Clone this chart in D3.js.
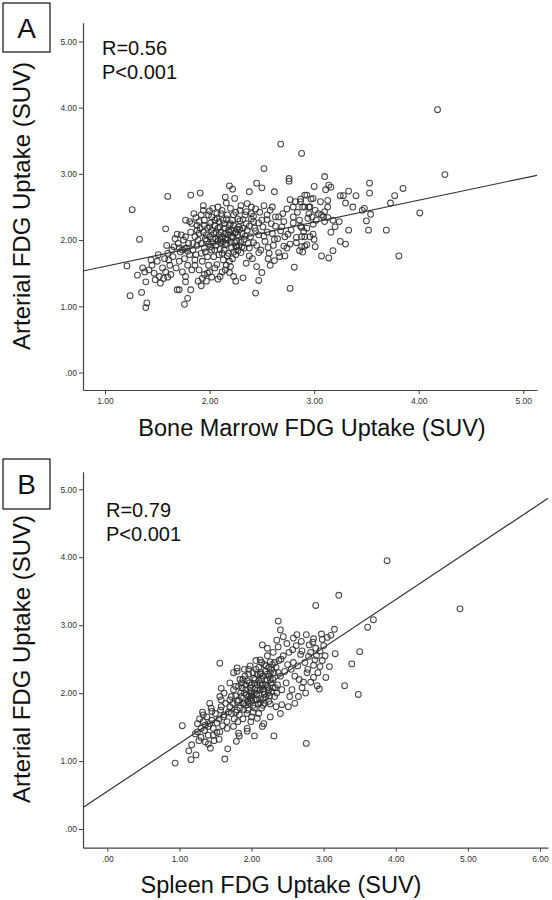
<!DOCTYPE html>
<html><head><meta charset="utf-8">
<script src="https://cdn.jsdelivr.net/npm/d3@7"></script>
<style>body{margin:0;background:#fff}svg{display:block}</style>
</head><body><svg id="c" width="552" height="900"></svg>
<script>
// ---------- data ----------
const panelLabels = ["A", "B"];
const xTitles = ["Bone Marrow FDG Uptake (SUV)", "Spleen FDG Uptake (SUV)"];
const yTitle = "Arterial FDG Uptake (SUV)";
const statsA = ["R=0.56", "P<0.001"];
const statsB = ["R=0.79", "P<0.001"];
const xTicksA = [1, 2, 3, 4, 5];
const xTicksB = [0, 1, 2, 3, 4, 5, 6];
const yTicks = [0, 1, 2, 3, 4, 5];
const fitA = [1.27, 0.333];   // intercept, slope
const fitB = [0.553, 0.706];

// bone marrow SUV, arterial SUV
const pointsA = [
[4.18,3.97],[4.25,2.99],[4.01,2.41],[3.81,1.76],[3.85,2.78],[3.77,2.67],[3.73,2.56],[3.69,2.15],[3.53,2.86],[3.53,2.71],
[3.52,2.15],[3.54,2.39],[3.50,2.29],[3.46,2.45],[3.48,2.48],[3.37,2.50],[3.40,2.67],[3.33,2.74],[3.33,2.15],[3.30,2.56],
[3.30,1.94],[3.25,1.98],[3.25,2.67],[3.28,2.67],[3.24,2.28],[3.20,2.20],[3.18,1.84],[3.16,2.12],[3.14,1.73],[3.07,1.76],
[3.10,2.96],[3.14,2.83],[3.16,2.80],[3.11,2.76],[3.00,2.81],[2.88,3.31],
[3.13,2.60],[3.13,2.50],[3.06,2.58],[2.99,2.63],[2.93,2.68],[2.96,2.50],[2.91,2.50],[3.01,2.45],[3.04,2.40],[3.09,2.35],
[3.13,2.34],[3.10,2.28],[2.99,2.24],[2.93,2.18],[2.90,2.13],[2.99,2.09],[2.96,2.05],[3.00,2.01],[2.93,1.93],[2.89,1.82],
[3.07,2.38],[3.10,2.43],[3.18,2.30],[2.94,2.33],[2.88,2.19],[2.91,2.05],[2.88,1.90],[3.01,1.90],[2.87,2.58],
[2.68,3.45],[2.52,3.08],[2.76,2.93],[2.76,2.89],[2.45,2.86],[2.50,2.79],[2.19,2.82],[2.22,2.77],[2.38,2.73],[2.62,2.73],
[1.60,2.66],[1.82,2.68],[1.91,2.71],[2.15,2.65],[2.24,2.63],[2.16,2.56],[1.26,2.46],[2.60,2.50],[1.77,2.30],[1.81,2.28],
[1.87,2.34],[1.58,2.17],[1.33,2.01],[1.69,2.09],[1.77,2.05],[1.21,1.61],[1.31,1.47],[1.39,1.37],[1.24,1.16],[1.35,1.21],
[1.40,1.05],[1.39,0.98],[1.69,1.25],[1.71,1.25],[1.77,1.37],[1.82,1.25],[1.79,1.12],[1.76,1.03],[1.89,1.38],[1.97,1.38],
[1.92,1.31],[2.08,1.41],[2.19,1.51],[2.23,1.45],[2.25,1.38],[2.32,1.43],[2.44,1.20],[2.47,1.39],[2.50,1.51],[2.77,1.27],
[2.81,1.59],[1.60,1.44],
[2.77,2.61],[2.82,2.58],[2.87,2.62],[2.80,2.50],[2.74,2.47],[2.91,2.68],[2.95,2.50],[2.89,2.50],[2.97,2.62],[2.66,2.35],
[2.71,2.28],[2.80,2.26],[2.87,2.21],[2.63,2.21],[2.68,2.14],[2.75,2.09],[2.83,2.04],[2.62,2.01],[2.71,1.91],[2.77,1.94],
[2.83,1.96],[2.91,1.91],[2.86,1.84],[2.62,1.69],[2.56,1.72],[2.66,1.81],[2.72,1.76],[2.56,1.89],[2.52,2.06],[2.44,2.14],
[2.47,2.26],[2.55,2.31],[2.42,2.36],[2.35,2.43],[2.40,2.50],[2.29,2.45],[2.32,2.31],[2.38,2.21],[2.29,2.16],[2.33,2.01],
[2.42,1.96],[2.47,1.81],[2.38,1.76],[2.30,1.81],[2.25,1.91],
[1.85,2.40],[1.88,2.22],[1.90,2.10],[1.92,1.95],[1.95,2.30],[1.96,1.82],[1.98,2.18],[2.00,2.05],[2.01,1.90],[2.02,2.35],
[2.04,1.75],[2.05,2.22],[2.06,2.12],[2.08,1.98],[2.09,2.28],[2.10,1.86],[2.11,2.40],[2.12,2.05],[2.13,1.70],[2.14,2.18],
[2.15,1.93],[2.16,2.32],[2.17,2.00],[2.18,1.80],[2.19,2.12],[2.20,2.25],[2.21,1.88],[2.22,2.05],[2.23,2.38],[2.24,1.96],
[2.25,1.78],[2.26,2.17],[2.27,2.08],[2.28,1.92],[2.29,2.29],[1.87,1.78],[1.93,1.68],[1.99,1.62],[2.03,2.48],[2.07,1.63],
[2.12,2.45],[2.16,1.62],[2.20,2.48],[1.94,2.45],[1.89,2.00],[2.02,2.15],[2.06,2.02],[2.10,2.20],[2.14,1.85],[2.18,2.08],
[2.22,1.72],[2.26,1.98],[1.97,1.99],[2.01,2.26],[2.05,1.85],[2.09,2.08],[2.13,2.30],[2.17,1.76],[2.21,2.15],[2.25,2.42],
[1.91,2.18],[1.95,1.88],[1.99,2.38],[2.03,1.96],[2.07,2.33],[2.11,1.96],[2.15,2.10],[2.19,1.68],[2.23,2.22],[2.27,1.84],
[1.42,1.55],[1.45,1.62],[1.47,1.50],[1.50,1.68],[1.52,1.45],[1.55,1.58],[1.57,1.72],[1.58,1.52],[1.60,1.80],[1.62,1.62],
[1.63,1.48],[1.65,1.75],[1.66,1.90],[1.68,1.58],[1.70,1.95],[1.71,1.68],[1.72,1.82],[1.74,1.52],[1.75,2.00],[1.76,1.72],
[1.78,1.88],[1.79,1.62],[1.80,1.95],[1.81,1.78],[1.82,2.12],[1.83,1.55],[1.84,1.85],[1.48,1.40],[1.53,1.35],[1.56,1.42],
[1.61,1.70],[1.64,1.85],[1.67,2.02],[1.73,2.08],[1.77,1.45],[1.38,1.52],[1.36,1.58],[1.44,1.70],[1.51,1.78],[1.59,1.92],
[1.74,1.85],[1.76,1.87],[1.79,1.83],[1.71,1.88],
[1.94,2.52],[2.00,2.44],[2.08,2.50],[2.30,2.52],[2.34,2.38],[2.36,2.55],[2.40,2.40],[2.44,2.47],[2.48,2.42],[2.52,2.52],
[2.55,2.38],[2.58,2.45],
[2.31,2.10],[2.33,1.88],[2.35,2.25],[2.37,1.95],[2.39,2.05],[2.41,1.72],[2.43,2.18],[2.45,1.92],[2.47,2.08],[2.49,1.85],
[2.51,2.20],[2.53,1.98],[2.55,2.12],[2.57,1.80],[2.59,2.25],[2.61,1.92],[2.63,2.35],[2.65,2.02],[2.67,1.75],[2.69,2.20],
[2.35,1.65],[2.45,1.60],[2.58,1.62],[2.40,2.32],[2.50,2.30],[2.60,2.10],[2.70,2.40],[2.72,2.05],[2.74,1.88],[2.78,2.15],
[2.80,2.35],[2.84,2.42],[2.86,2.30],[2.88,2.05],[2.95,2.40],[2.98,2.35],[3.02,2.30],
[1.90,1.55],[1.95,1.48],[2.00,1.52],[2.05,1.58],[2.10,1.45],[2.15,1.55],[2.20,1.60],[1.93,1.42],[2.02,1.44],[1.86,1.62],
[1.98,1.50],[2.12,1.52],
[1.86,2.05],[1.88,1.92],[1.90,2.28],[1.92,1.80],[1.94,2.12],[1.96,2.02],[1.98,1.75],[2.00,2.20],[2.02,1.85],[2.04,2.10],
[2.06,1.92],[2.08,2.18],[2.10,2.02],[2.12,1.80],[2.14,2.25],[2.16,1.95],[2.18,2.15],[2.20,1.98],[2.22,2.30],[2.24,2.10],
[2.26,1.90],[2.28,2.20],[2.30,1.97],[2.32,2.18],[2.34,2.06],[1.88,2.15],[1.92,2.38],[1.97,2.08],[2.03,2.02],[2.07,2.40],
[2.11,2.12],[2.15,2.02],[2.19,2.22],[2.23,1.82],[2.27,2.32],[2.31,1.90],[1.99,1.94],[2.09,1.78],[2.13,1.98],[2.17,2.38],
[2.21,2.05],[2.25,2.12],[1.95,2.22],[2.05,2.30],[1.84,1.95],[1.83,2.25],[1.86,1.70],[2.36,2.15],[2.38,1.88],[2.42,2.28]
];

// spleen SUV, arterial SUV
const pointsB = [
[3.88,3.95],[4.89,3.24],[3.21,3.44],[2.89,3.29],[3.69,3.08],[3.61,2.97],[3.50,2.61],[3.39,2.43],[3.29,2.11],[3.48,1.98],
[3.15,2.94],[3.16,2.58],[3.08,2.39],[3.03,2.23],[2.94,2.06],[2.76,1.26],[2.31,1.37],[2.37,3.06],[2.40,2.93],[2.15,2.71],
[2.22,2.66],[1.56,2.44],[1.80,2.37],[1.80,2.32],[1.58,2.07],[1.04,1.52],[0.94,0.97],[1.16,1.02],[1.13,1.15],[1.17,1.24],
[1.23,1.09],[1.25,1.43],[1.43,1.19],[1.63,1.03],[1.67,1.18],[1.79,1.29],[1.83,1.37],[1.94,1.44],[2.04,1.37],[2.15,1.51],
[2.63,2.86],[2.76,2.86],[2.86,2.80],[2.97,2.87],[2.69,2.76],[2.80,2.71],[2.89,2.66],[2.98,2.79],[2.57,2.64],[2.68,2.57],
[2.79,2.54],[2.88,2.49],[2.95,2.39],[2.86,2.41],[2.77,2.30],[2.86,2.23],[2.72,2.16],[2.82,2.16],[2.91,2.11],[2.70,2.08],
[2.51,1.80],[2.53,1.95],[2.42,1.83],[2.40,1.70],[2.26,1.65],[2.17,1.55],[2.08,1.63],[1.99,1.58],[1.94,1.48],[1.82,1.41],
[1.75,1.51],[1.66,1.48],[1.56,1.43],[1.47,1.38],[1.40,1.51],[1.33,1.68],[1.45,1.73],[1.36,1.53],[1.52,1.56],[1.61,1.65],
[1.42,1.85],[1.58,1.80],[1.70,1.90],[1.56,1.95],[1.70,2.15],[1.84,2.20],[1.75,2.30],[2.12,2.49],[2.26,2.46],[2.37,2.68],
[2.49,2.73],[2.44,2.83],[2.58,2.81],[2.35,2.78],
[1.70,1.80],[1.72,1.95],[1.75,2.05],[1.78,1.72],[1.80,1.88],[1.82,2.10],[1.84,1.78],[1.86,1.95],[1.88,2.20],[1.90,1.85],
[1.92,2.05],[1.94,1.70],[1.96,2.28],[1.98,1.92],[2.00,2.12],[2.02,1.82],[2.04,2.00],[2.06,2.35],[2.08,1.90],[2.10,2.18],
[2.12,2.05],[2.14,1.78],[2.16,2.25],[2.18,1.98],[2.20,2.40],[2.22,2.10],[2.24,1.88],[2.26,2.30],[2.28,2.02],[2.30,2.20],
[2.32,1.95],[2.34,2.38],[2.36,2.12],[2.38,2.48],[2.40,2.25],[2.42,2.05],[2.44,2.55],[2.46,2.32],[2.48,2.15],[2.50,2.42],
[1.85,2.00],[1.89,1.76],[1.93,1.98],[1.97,2.15],[2.01,1.96],[2.05,2.08],[2.09,1.84],[2.13,2.30],[2.17,2.02],[2.21,2.20],
[2.25,1.96],[2.29,2.42],[2.33,2.08],[2.37,2.30],[2.41,2.50],[1.78,1.96],[1.83,1.68],[1.87,2.08],[1.91,2.25],[1.95,1.88],
[1.99,2.02],[2.03,2.22],[2.07,1.98],[2.11,1.92],[2.15,2.12],[2.19,2.32],[2.23,2.00],[2.27,2.15],[2.31,2.30],[2.35,2.00],
[1.76,1.62],[1.81,1.58],[1.88,1.62],[1.95,1.75],[2.02,1.72],[2.10,1.70],[2.18,1.85],[2.26,1.84],[2.34,1.80],[1.98,2.40],
[2.06,2.48],[2.14,2.45],[2.22,2.55],[2.30,2.60],[1.90,2.35],[2.00,1.65],[2.08,2.28],[2.16,1.92],[2.24,2.25],[2.12,2.15],
[1.25,1.55],[1.28,1.62],[1.30,1.48],[1.33,1.58],[1.35,1.45],[1.38,1.65],[1.40,1.38],[1.42,1.55],[1.45,1.60],[1.47,1.48],
[1.50,1.70],[1.52,1.42],[1.55,1.62],[1.57,1.75],[1.60,1.52],[1.62,1.68],[1.64,1.85],[1.66,1.58],[1.68,1.72],[1.30,1.35],
[1.36,1.28],[1.40,1.25],[1.48,1.30],[1.55,1.32],[1.22,1.40],[1.27,1.30],[1.32,1.72],[1.44,1.78],[1.58,1.90],[1.62,2.00],
[2.52,2.60],[2.55,2.35],[2.58,2.45],[2.60,2.25],[2.62,2.70],[2.64,2.40],[2.66,2.20],[2.70,2.62],[2.74,2.45],[2.78,2.35],
[2.82,2.60],[2.85,2.75],[2.90,2.55],[2.95,2.62],[3.00,2.70],[3.05,2.82],[3.10,2.85],[2.92,2.30],[2.98,2.48],[3.02,2.55],
[2.56,2.05],[2.65,1.95],[2.75,2.00],[2.60,1.85],
[1.82,1.90],[1.86,2.15],[1.90,2.00],[1.92,1.82],[1.94,2.18],[1.96,1.95],[1.98,2.08],[2.00,1.88],[2.02,2.30],[2.04,2.14],
[2.06,1.90],[2.08,2.04],[2.10,2.38],[2.12,1.86],[2.14,2.20],[2.16,2.06],[2.18,2.42],[2.20,1.94],[2.22,2.28],[2.24,2.05],
[2.26,2.20],[2.28,2.35],[2.30,2.08],[2.32,2.45],[1.88,1.85],[1.92,2.12],[1.96,2.35],[2.00,1.98],[2.04,1.78],[2.08,2.12],
[2.12,2.28],[2.16,1.82],[2.20,2.12],[2.24,2.38],[1.74,1.85],[1.78,2.10],[1.72,1.70],[1.80,1.75],[2.05,2.20],[1.97,1.85]
];

// ---------- drawing ----------
const svg = d3.select("#c");
const fmt = d => d === 0 ? ".00" : d3.format(".2f")(d);
const FONT = "'Liberation Sans', Arial, sans-serif";

const panels = [
  { label: panelLabels[0], pts: pointsA, fit: fitA, stats: statsA, xTicks: xTicksA, xTitle: xTitles[0],
    xRef: [[1, 5], [105, 523.3]], xExt: [83, 537], yRef: [[0, 5], [372.5, 41.5]], yExt: [390, 22.7],
    box: [3, 3, 47, 49], statPos: [102, 55], xTitlePos: [312, 436], yTitlePos: [30, 206] },
  { label: panelLabels[1], pts: pointsB, fit: fitB, stats: statsB, xTicks: xTicksB, xTitle: xTitles[1],
    xRef: [[0, 6], [107.3, 540]], xExt: [83, 548], yRef: [[0, 5], [829, 489.3]], yExt: [847.7, 471.7],
    box: [3, 459, 47, 50], statPos: [106, 517], xTitlePos: [281, 893], yTitlePos: [30, 659] }
];

panels.forEach(p => {
  const x0 = d3.scaleLinear().domain(p.xRef[0]).range(p.xRef[1]);
  const x = d3.scaleLinear().domain([x0.invert(p.xExt[0]), x0.invert(p.xExt[1])]).range(p.xExt);
  const y0 = d3.scaleLinear().domain(p.yRef[0]).range(p.yRef[1]);
  const y = d3.scaleLinear().domain([y0.invert(p.yExt[0]), y0.invert(p.yExt[1])]).range(p.yExt);
  const g = svg.append("g");

  // axes
  const ax = g.append("g").attr("transform", `translate(0,${p.yExt[0]})`)
    .call(d3.axisBottom(x).tickValues(p.xTicks).tickFormat(fmt).tickSize(4).tickPadding(4).tickSizeOuter(0));
  const ay = g.append("g").attr("transform", `translate(${p.xExt[0]},0)`)
    .call(d3.axisLeft(y).tickValues(yTicks).tickFormat(fmt).tickSize(4).tickPadding(2).tickSizeOuter(0));
  [ax, ay].forEach(a => {
    a.select(".domain").attr("stroke", "#444").attr("stroke-width", 1.2);
    a.selectAll(".tick line").attr("stroke", "#444").attr("stroke-width", 1);
    a.selectAll(".tick text").attr("fill", "#333").style("font", `8.5px ${FONT}`);
  });

  // points
  g.append("g").selectAll("circle").data(p.pts).join("circle")
    .attr("cx", d => x(d[0])).attr("cy", d => y(d[1])).attr("r", 2.9)
    .attr("fill", "none").attr("stroke", "#2a2a2a").attr("stroke-width", 1.05).attr("stroke-opacity", 0.85);

  // fit line
  const xd = x.domain();
  g.append("line")
    .attr("x1", x(xd[0])).attr("y1", y(p.fit[0] + p.fit[1] * xd[0]))
    .attr("x2", x(xd[1])).attr("y2", y(p.fit[0] + p.fit[1] * xd[1]))
    .attr("stroke", "#333").attr("stroke-width", 1.2);

  // panel label box
  g.append("rect").attr("x", p.box[0]).attr("y", p.box[1]).attr("width", p.box[2]).attr("height", p.box[3])
    .attr("fill", "#fff").attr("stroke", "#111").attr("stroke-width", 1.2);
  g.append("text").attr("x", p.box[0] + p.box[2] / 2).attr("y", p.box[1] + p.box[3] / 2 + 10)
    .attr("text-anchor", "middle").style("font", `28px ${FONT}`).attr("fill", "#111")
    .text(p.label);

  // stats
  g.append("g").selectAll("text").data(p.stats).join("text")
    .attr("x", p.statPos[0]).attr("y", (d, i) => p.statPos[1] + i * 24)
    .style("font", `20px ${FONT}`).attr("fill", "#111").text(d => d);

  // titles
  g.append("text").attr("x", p.xTitlePos[0]).attr("y", p.xTitlePos[1]).attr("text-anchor", "middle")
    .style("font", `23.5px ${FONT}`).attr("fill", "#111").text(p.xTitle);
  g.append("text").attr("transform", `translate(${p.yTitlePos[0]},${p.yTitlePos[1]}) rotate(-90)`)
    .attr("text-anchor", "middle")
    .style("font", `24px ${FONT}`).attr("fill", "#111").text(yTitle);
});
</script></body></html>
